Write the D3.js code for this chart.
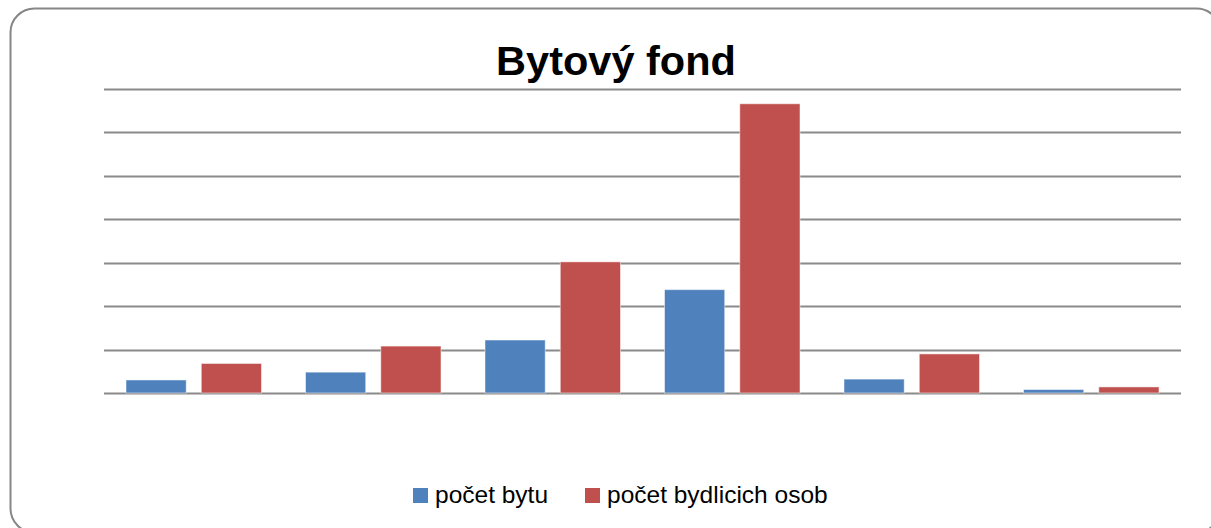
<!DOCTYPE html>
<html>
<head>
<meta charset="utf-8">
<script src="https://cdn.jsdelivr.net/npm/d3@7"></script>
<style>
  body { margin: 0; background: #fff; }
  svg { display: block; font-family: "Liberation Sans", Arial, sans-serif; }
</style>
</head>
<body>
<svg width="1211" height="528"></svg>
<script>
// data (no axis labels shown, unit = 50 per gridline)
var categories = ["1", "2", "3", "4", "5", "6"];
var seriesNames = ["počet bytu", "počet bydlicich osob"];
var pocetBytu = [15, 24, 61, 119, 16, 4];
var pocetOsob = [34, 54, 151, 333, 45, 7];
var gridTicks = [0, 50, 100, 150, 200, 250, 300, 350];
var colors = ["#4f81bd", "#c0504d"];

var svg = d3.select("svg"),
    width = +svg.attr("width"),
    height = +svg.attr("height");

// chart frame
svg.append("rect")
    .attr("x", 10.5).attr("y", 8.5)
    .attr("width", 1210).attr("height", 524)
    .attr("rx", 24).attr("ry", 24)
    .attr("fill", "#fff")
    .attr("stroke", "#868686")
    .attr("stroke-width", 2);

// title
svg.append("text")
    .attr("x", 616).attr("y", 75)
    .attr("text-anchor", "middle")
    .attr("font-size", 41.5)
    .attr("font-weight", "bold")
    .attr("fill", "#000")
    .text("Bytový fond");

var plotLeft = 104, plotRight = 1181, plotTop = 89, plotBottom = 393;

var y = d3.scaleLinear()
    .domain([0, 350])
    .range([plotBottom, plotTop]);

var x = d3.scaleBand()
    .domain(categories)
    .range([plotLeft, plotRight])
    .padding(0);

var xSub = d3.scaleBand()
    .domain(seriesNames)
    .range([22, x.bandwidth() - 22])
    .paddingInner(0.2);

// gridlines
svg.append("g")
    .selectAll("line")
    .data(gridTicks)
    .enter().append("line")
    .attr("x1", plotLeft).attr("x2", plotRight)
    .attr("y1", d => Math.round(y(d)) + 0.5)
    .attr("y2", d => Math.round(y(d)) + 0.5)
    .attr("stroke", "#8a8a8a")
    .attr("stroke-width", 2);

var rows = categories.map(function (c, i) {
    return { cat: c, values: [pocetBytu[i], pocetOsob[i]] };
});

var groups = svg.append("g")
    .selectAll("g")
    .data(rows)
    .enter().append("g")
    .attr("transform", d => "translate(" + x(d.cat) + ",0)");

groups.selectAll("rect")
    .data(d => d.values.map((v, k) => ({ name: seriesNames[k], value: v, k: k })))
    .enter().append("rect")
    .attr("x", d => xSub(d.name))
    .attr("width", xSub.bandwidth())
    .attr("y", d => y(d.value))
    .attr("height", d => y(0) - y(d.value))
    .attr("fill", d => colors[d.k])
    .attr("stroke", "rgba(255,255,255,0.5)")
    .attr("stroke-width", 1);

// legend
var legendItems = [
    { name: seriesNames[0], x: 413, color: colors[0] },
    { name: seriesNames[1], x: 585, color: colors[1] }
];
var legend = svg.append("g")
    .selectAll("g")
    .data(legendItems)
    .enter().append("g")
    .attr("transform", d => "translate(" + d.x + ",488)");

legend.append("rect")
    .attr("width", 15).attr("height", 15)
    .attr("fill", d => d.color);

legend.append("text")
    .attr("x", 22).attr("y", 15)
    .attr("font-size", 24.5)
    .attr("fill", "#000")
    .text(d => d.name);
</script>
</body>
</html>
